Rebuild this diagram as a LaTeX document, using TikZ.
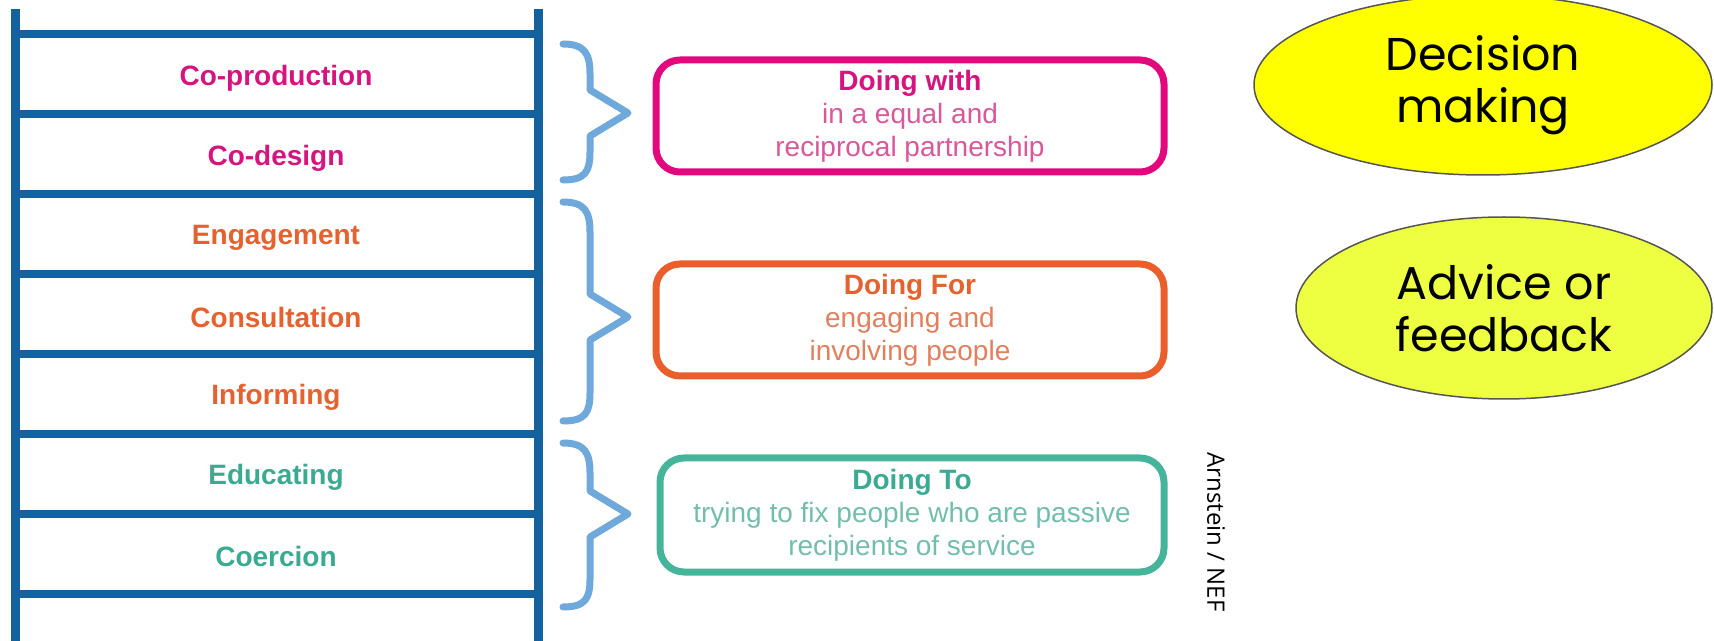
\documentclass[tikz,border=0pt]{standalone}
\usepackage{fontspec}
\setmainfont{Liberation Sans}
\newfontfamily\ellfont{Poppins}
\newfontfamily\credfont{Open Sans}
\usetikzlibrary{shapes.geometric}
\definecolor{ladderblue}{HTML}{13629E}
\definecolor{bracecol}{HTML}{6FA8DA}
\definecolor{pinkT}{HTML}{D6147F}
\definecolor{pinkL}{HTML}{D9579B}
\definecolor{pinkB}{HTML}{E4087E}
\definecolor{orangeT}{HTML}{E5622E}
\definecolor{orangeL}{HTML}{E2805C}
\definecolor{orangeB}{HTML}{EA5E2C}
\definecolor{tealT}{HTML}{3AAA92}
\definecolor{tealL}{HTML}{72BEAB}
\definecolor{tealB}{HTML}{45B49B}
\definecolor{ellA}{HTML}{FFFF00}
\definecolor{ellB}{HTML}{EEFF41}
\definecolor{ellline}{HTML}{555555}
\begin{document}
\begin{tikzpicture}[x=0.5pt,y=-0.5pt,
  rail/.style={ladderblue,line width=4.5pt},
  rung/.style={ladderblue,line width=4pt},
  rungtext/.style={font=\bfseries\fontsize{14}{16}\selectfont},
  bracepath/.style={bracecol,line width=3.5pt,line cap=round,line join=round},
  groupbox/.style={draw,line width=3.5pt,rounded corners=12pt,minimum width=254pt,minimum height=56pt,inner sep=0pt,align=center,font=\fontsize{14}{16.5}\selectfont},
  ellnode/.style={ellipse,draw=ellline,line width=0.75pt,inner sep=0pt,align=center,font=\ellfont\fontsize{23}{26}\selectfont}
]
\useasboundingbox (0,0) rectangle (1714,641);
% ladder
\draw[rail] (15,9) -- (15,645);
\draw[rail] (538,9) -- (538,645);
\foreach \y in {34,114,194,274,354,434,514,594}
  \draw[rung] (15,\y) -- (538,\y);
\node[rungtext,text=pinkT] (l1) at (276,78) {Co-production};
\node[rungtext,text=pinkT] (l2) at (276,158) {Co-design};
\node[rungtext,text=orangeT] (l3) at (276,238) {Engagement};
\node[rungtext,text=orangeT] (l4) at (276,317) {Consultation};
\node[rungtext,text=orangeT] (l5) at (276,397) {Informing};
\node[rungtext,text=tealT] (l6) at (276,477) {Educating};
\node[rungtext,text=tealT] (l7) at (276,556) {Coercion};
% braces
\draw[bracepath] (563,44) .. controls (585,44) and (590,54) .. (590,74) -- (590,90) -- (628,113) -- (590,136) -- (590,152) .. controls (590,172) and (585,180) .. (563,180);
\draw[bracepath] (563,202) .. controls (585,202) and (590,212) .. (590,232) -- (590,294) -- (628,317) -- (590,340) -- (590,393) .. controls (590,413) and (585,421) .. (563,421);
\draw[bracepath] (563,443) .. controls (585,443) and (590,453) .. (590,473) -- (590,491) -- (628,514) -- (590,537) -- (590,579) .. controls (590,599) and (585,607) .. (563,607);
% boxes
\node[groupbox,draw=pinkB] (b1) at (910,116) {\textcolor{pinkT}{\bfseries Doing with}\\ \textcolor{pinkL}{in a equal and}\\ \textcolor{pinkL}{reciprocal partnership}};
\node[groupbox,draw=orangeB] (b2) at (910,320) {\textcolor{orangeT}{\bfseries Doing For}\\ \textcolor{orangeL}{engaging and}\\ \textcolor{orangeL}{involving people}};
\node[groupbox,draw=tealB,minimum width=252pt,minimum height=57pt] (b3) at (912,515) {\textcolor{tealT}{\bfseries Doing To}\\ \textcolor{tealL}{trying to fix people who are passive}\\ \textcolor{tealL}{recipients of service}};
% credit
\node[rotate=-90,font=\credfont\fontsize{12}{14}\selectfont] (cred) at (1216,532) {Arnstein / NEF};
% ellipses
\node[ellnode,fill=ellA,minimum width=229pt,minimum height=90pt] (e1) at (1483,85) {Decision\\making};
\node[ellnode,fill=ellB,minimum width=208pt,minimum height=91pt] (e2) at (1504,308) {Advice or\\feedback};
\end{tikzpicture}
\end{document}
